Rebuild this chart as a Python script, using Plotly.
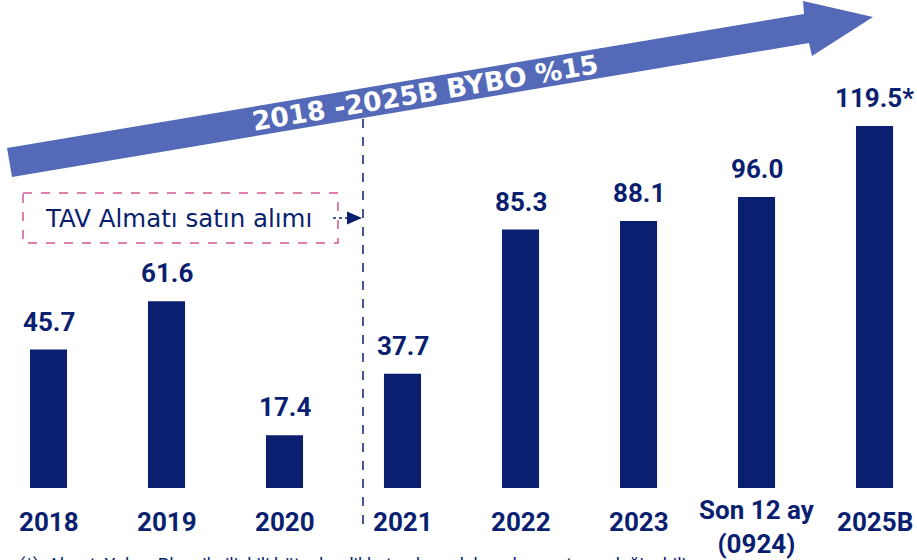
import plotly.graph_objects as go

# Data
categories = ["2018", "2019", "2020", "2021", "2022", "2023", "Son 12 ay<br>(0924)", "2025B"]
values = [45.7, 61.6, 17.4, 37.7, 85.3, 88.1, 96.0, 119.5]
value_labels = ["45.7", "61.6", "17.4", "37.7", "85.3", "88.1", "96.0", "119.5*"]
arrow_text = "2018 -2025B BYBO %15"
note_text = "TAV Almatı satın alımı"
footnote = "(*)  Almatı Yolcu  Planı ile ilişkili bütçeler dikkate alınarak hazırlanmıştır ve değişebilir"

NAVY = "#0A1F6F"
ARROW = "#546AB9"
PINK = "#D4578F"
W, H = 917, 560
PLOT_BOTTOM = 488  # pixel row of the bar baseline


def px(x):
    return x / W


def py(y):
    return (PLOT_BOTTOM - y) / PLOT_BOTTOM


fig = go.Figure(go.Bar(
    x=categories,
    y=values,
    width=0.314,
    marker=dict(color=NAVY, line=dict(width=0)),
    hoverinfo="skip",
))

# value labels above bars (x by category index, since "2018" etc. would be read as numbers)
for i, (v, t) in enumerate(zip(values, value_labels)):
    fig.add_annotation(x=i, y=v, text=f"<b>{t}</b>", showarrow=False,
                       xanchor="center", yanchor="middle", yshift=28,
                       font=dict(family="Roboto", size=26, color=NAVY))

# category labels under the baseline
for i, c in enumerate(categories):
    ypix = 527 if "<br>" in c else 522
    fig.add_annotation(x=i, y=py(ypix), yref="paper", text=f"<b>{c}</b>",
                       showarrow=False, xanchor="center", yanchor="middle",
                       font=dict(family="Roboto", size=26, color=NAVY))

# big growth arrow
pts = [(7, 148), (804, 14), (803, 1), (873, 17), (812, 56), (809, 43), (12, 177)]
path = "M " + " L ".join(f"{px(x):.5f},{py(y):.5f}" for x, y in pts) + " Z"
fig.add_shape(type="path", path=path, xref="paper", yref="paper",
              fillcolor=ARROW, line=dict(width=0), layer="below")
fig.add_annotation(x=px(425), y=py(93), xref="paper", yref="paper",
                   text=f"<b>{arrow_text}</b>", showarrow=False, textangle=-9.5,
                   xanchor="center", yanchor="middle",
                   font=dict(family="DejaVu Sans", size=26.5, color="white"))

# acquisition marker: dashed vertical line + dashed box with arrow
fig.add_shape(type="line", xref="paper", yref="paper",
              x0=px(363), x1=px(363), y0=py(119), y1=py(528),
              line=dict(color=NAVY, width=1.5, dash="dash"))
fig.add_shape(type="rect", xref="paper", yref="paper",
              x0=px(23), x1=px(338), y0=py(193), y1=py(243),
              line=dict(color=PINK, width=1.5, dash="dash"))
fig.add_annotation(x=px(178), y=py(218), xref="paper", yref="paper",
                   text=note_text, showarrow=False,
                   xanchor="center", yanchor="middle",
                   font=dict(family="DejaVu Sans", size=24.5, color=NAVY))
fig.add_shape(type="line", xref="paper", yref="paper",
              x0=px(333), x1=px(348), y0=py(218), y1=py(218),
              line=dict(color=NAVY, width=1.5, dash="dot"))
tri = [(347, 211.5), (362, 218), (347, 224.5)]
fig.add_shape(type="path", xref="paper", yref="paper",
              path="M " + " L ".join(f"{px(x):.5f},{py(y):.5f}" for x, y in tri) + " Z",
              fillcolor=NAVY, line=dict(width=0))

# footnote, mostly cut off at the bottom edge
fig.add_annotation(x=px(17), y=py(552), xref="paper", yref="paper",
                   text=footnote, showarrow=False, xanchor="left", yanchor="top",
                   font=dict(family="Roboto", size=18, color=NAVY))

fig.update_layout(
    width=W, height=H,
    margin=dict(l=0, r=0, t=0, b=H - PLOT_BOTTOM),
    paper_bgcolor="white", plot_bgcolor="rgba(0,0,0,0)",
    showlegend=False,
    xaxis=dict(type="category", range=[-0.411, 7.36], visible=False, fixedrange=True),
    yaxis=dict(range=[0, PLOT_BOTTOM / 3.03], visible=False, fixedrange=True),
)

fig.write_html("out.html", config={"displayModeBar": False},
               post_script="document.body.style.margin='0';document.body.style.overflow='hidden';")
